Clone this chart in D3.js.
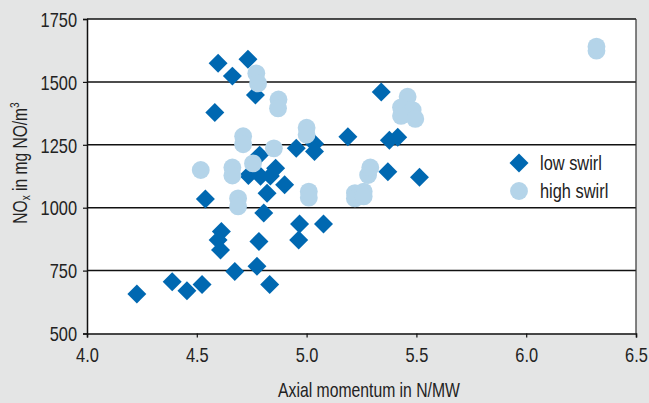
<!DOCTYPE html>
<html>
<head>
<meta charset="utf-8">
<script src="https://cdn.jsdelivr.net/npm/d3@7"></script>
<style>
  body { margin: 0; background: #e4e5e5; }
  svg text { font-family: "Liberation Sans", Arial, sans-serif; fill: #222; }
</style>
</head>
<body>
<div id="chart"></div>
<script>
// low swirl: [axial momentum N/MW, NOx mg NO/m3]
const lowSwirl = [
  [4.227, 657], [4.388, 706], [4.455, 670], [4.524, 695], [4.539, 1035],
  [4.582, 1378], [4.597, 1574], [4.662, 1523], [4.733, 1590], [4.767, 1448],
  [4.612, 905], [4.597, 872], [4.608, 832], [4.673, 746], [4.774, 767],
  [4.783, 866], [4.805, 979], [4.832, 695], [4.82, 1057], [4.9, 1091],
  [4.786, 1209], [4.735, 1128], [4.79, 1125], [4.835, 1126], [4.859, 1157],
  [4.953, 1236], [5.036, 1254], [5.036, 1223], [4.968, 935], [4.964, 872],
  [5.077, 935], [5.188, 1282], [5.34, 1460], [5.377, 1268], [5.415, 1280],
  [5.37, 1143], [5.514, 1121]
];
const highSwirl = [
  [4.518, 1150], [4.662, 1160], [4.662, 1128], [4.688, 1037], [4.688, 1005],
  [4.711, 1284], [4.711, 1252], [4.756, 1176], [4.771, 1534], [4.779, 1494],
  [4.851, 1236], [4.872, 1430], [4.87, 1395], [5.0, 1318], [5.0, 1290],
  [5.01, 1064], [5.01, 1040], [5.22, 1058], [5.22, 1037], [5.26, 1064],
  [5.26, 1045], [5.28, 1130], [5.29, 1160], [5.46, 1441], [5.43, 1399],
  [5.483, 1388], [5.43, 1365], [5.495, 1353], [6.32, 1640], [6.32, 1624]
];
const xTicks = [4.0, 4.5, 5.0, 5.5, 6.0, 6.5];
const yTicks = [500, 750, 1000, 1250, 1500, 1750];
const seriesNames = ["low swirl", "high swirl"];

const W = 649, H = 403;
const margin = { top: 19, right: 13, bottom: 69.5, left: 87 };
const width = W - margin.left - margin.right;
const height = H - margin.top - margin.bottom;
const narrow = 0.82; // squeeze Liberation Sans to look like a narrow face
const fs = 20;

const svg = d3.select("#chart").append("svg")
  .attr("width", W).attr("height", H);

svg.append("rect").attr("width", W).attr("height", H).attr("fill", "#e4e5e5");

const g = svg.append("g").attr("transform", `translate(${margin.left},${margin.top})`);

const x = d3.scaleLinear().domain([4, 6.5]).range([0, width]);
const y = d3.scaleLinear().domain([500, 1750]).range([height, 0]);

g.append("rect").attr("width", width).attr("height", height).attr("fill", "#fff");

// gridlines
g.selectAll(".grid").data(yTicks.slice(1)).join("line")
  .attr("x1", 0).attr("x2", width)
  .attr("y1", d => y(d)).attr("y2", d => y(d))
  .attr("stroke", "#111").attr("stroke-width", 1.5);

// right border
g.append("line").attr("x1", width).attr("x2", width).attr("y1", 0).attr("y2", height)
  .attr("stroke", "#333").attr("stroke-width", 1.2);

const xAxis = g.append("g").attr("transform", `translate(0,${height})`)
  .call(d3.axisBottom(x).tickValues(xTicks).tickFormat(d3.format(".1f")).tickSize(4).tickPadding(10));
const yAxis = g.append("g")
  .call(d3.axisLeft(y).tickValues(yTicks).tickFormat(d => d).tickSize(4).tickPadding(6));

[xAxis, yAxis].forEach(a => {
  a.select(".domain").attr("stroke", "#111").attr("stroke-width", 1.5);
  a.selectAll(".tick line").attr("stroke", "#111").attr("stroke-width", 1.2);
  a.selectAll("text").attr("font-size", fs).attr("fill", "#222")
    .attr("font-family", "Liberation Sans, Arial, sans-serif");
});
xAxis.selectAll("text").attr("transform", `scale(${narrow},1)`);
yAxis.selectAll("text").attr("dy", "0.36em").attr("x", -10 / narrow)
  .attr("transform", `scale(${narrow},1)`);

const diamond = d3.symbol().type(d3.symbolSquare).size(180);
const circle = d3.symbol().type(d3.symbolCircle).size(250);

g.selectAll(".low").data(lowSwirl).join("path")
  .attr("d", diamond)
  .attr("transform", d => `translate(${x(d[0])},${y(d[1])}) rotate(45)`)
  .attr("fill", "#0068b1");

g.selectAll(".high").data(highSwirl).join("path")
  .attr("d", circle)
  .attr("transform", d => `translate(${x(d[0])},${y(d[1])})`)
  .attr("fill", "#b4d4e9");

// legend
const legend = svg.append("g").attr("transform", "translate(519,163)");
legend.append("path").attr("d", diamond).attr("transform", "rotate(45)").attr("fill", "#0068b1");
legend.append("path").attr("d", circle).attr("transform", "translate(0,28)").attr("fill", "#b4d4e9");
legend.selectAll("text").data(seriesNames).join("text")
  .attr("transform", (d, i) => `translate(21,${i * 28 + 6.5}) scale(${narrow},1)`)
  .attr("font-size", fs).text(d => d);

// axis titles
svg.append("text")
  .attr("transform", `translate(369,397) scale(${narrow * 0.96},1)`)
  .attr("text-anchor", "middle").attr("font-size", fs)
  .text("Axial momentum in N/MW");

const yt = svg.append("text")
  .attr("transform", `translate(27,163) rotate(-90) scale(${narrow * 0.95},1)`)
  .attr("text-anchor", "middle").attr("font-size", fs);
yt.append("tspan").text("NO");
yt.append("tspan").attr("font-size", 13).attr("baseline-shift", "-25%").text("x");
yt.append("tspan").text(" in mg NO/m");
yt.append("tspan").attr("font-size", 13).attr("baseline-shift", "55%").text("3");
</script>
</body>
</html>
